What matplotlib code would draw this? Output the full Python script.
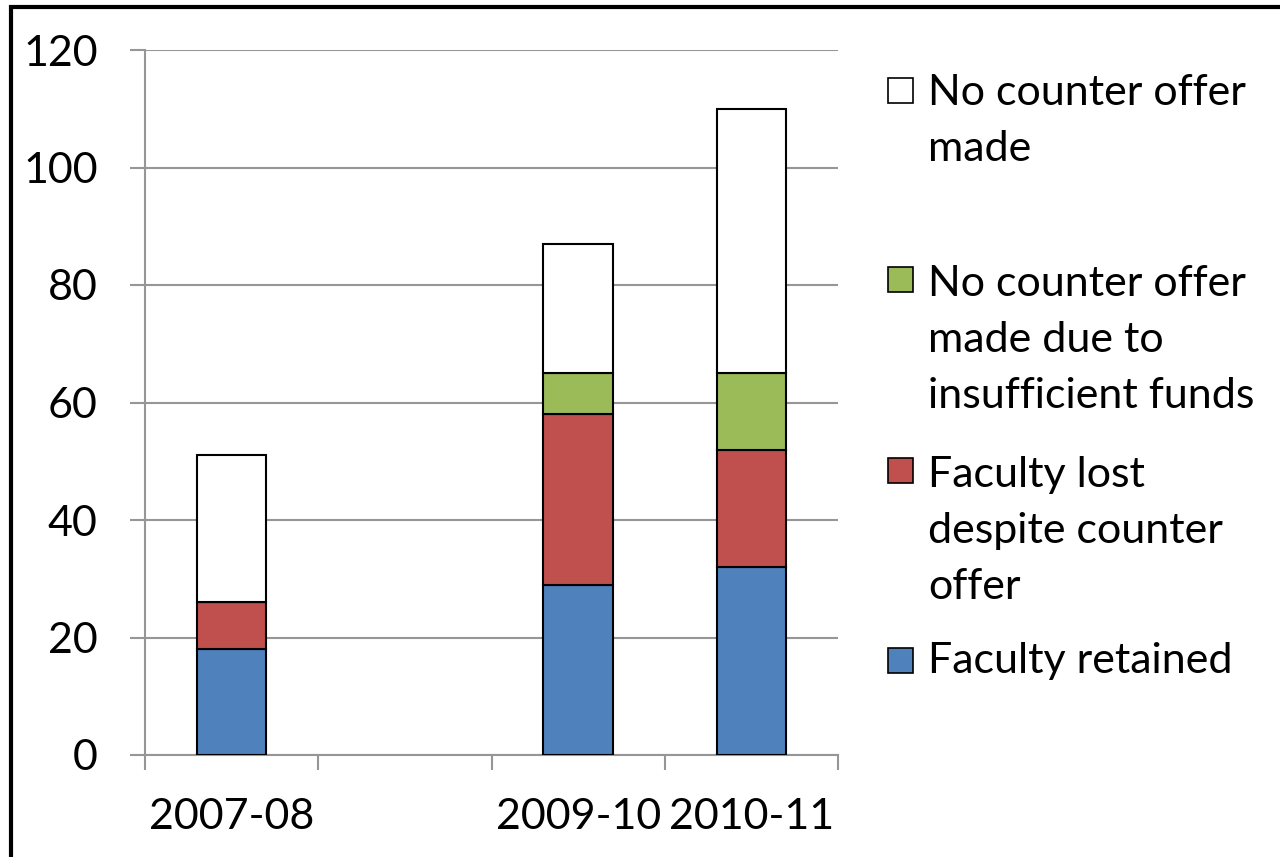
import numpy as np
import matplotlib
matplotlib.use("Agg")
import matplotlib.pyplot as plt
from matplotlib.patches import Rectangle

categories = ["2007-08", "2008-09", "2009-10", "2010-11"]
tick_labels = ["2007-08", "", "2009-10", "2010-11"]
retained = [18, np.nan, 29, 32]
lost = [8, np.nan, 29, 20]
no_funds = [0, np.nan, 7, 13]
no_offer = [25, np.nan, 22, 45]

series_names = ["Faculty retained",
                "Faculty lost\ndespite counter\noffer",
                "No counter offer\nmade due to\ninsufficient funds",
                "No counter offer\nmade"]
series_values = [retained, lost, no_funds, no_offer]
colors = ["#4F81BD", "#C0504D", "#9BBB59", "#FFFFFF"]

FONT = "Lato"
FS = 31
plt.rcParams['font.family'] = [FONT, 'DejaVu Sans']

W, H = 1280, 857
fig = plt.figure(figsize=(W / 100, H / 100), dpi=100)
ax = fig.add_axes([145 / W, 1 - 755 / H, (838 - 145) / W, (755 - 50) / H])

x = np.arange(len(categories))
bottom = np.zeros(len(categories))
for vals, col in zip(series_values, colors):
    v = np.array(vals, dtype=float)
    ax.bar(x, v, width=0.4, bottom=bottom, color=col, edgecolor="black",
           linewidth=1.5, zorder=3)
    bottom = bottom + np.nan_to_num(v)

ax.set_xlim(-0.5, len(categories) - 0.5)
ax.set_ylim(0, 120)
ax.set_yticks(np.arange(0, 121, 20))
ax.set_xticks(x)
ax.set_xticklabels(tick_labels)
ax.set_xticks(np.arange(-0.5, len(categories), 1.0), minor=True)
ax.tick_params(axis='x', which='major', length=0, pad=31, labelsize=FS)
ax.tick_params(axis='x', which='minor', length=11, width=1.5, color="#969696",
               direction='out')
ax.tick_params(axis='y', which='major', length=11, width=1.5, color="#969696",
               pad=23, labelsize=FS)
ax.yaxis.grid(True, color="#969696", linewidth=1.5, zorder=0)
for s in ["top", "right"]:
    ax.spines[s].set_visible(False)
for s in ["left", "bottom"]:
    ax.spines[s].set_color("#969696")
    ax.spines[s].set_linewidth(1.5)
ax.set_axisbelow(True)

# legend (manual, Excel-like: top entry first, square aligned to first line)
legend_order = [3, 2, 1, 0]
first_baselines = [103, 292, 483, 673]
LINE_PX = 58
for idx, yb in zip(legend_order, first_baselines):
    n = series_names[idx].count("\n")
    fig.patches.append(Rectangle((888 / W, 1 - yb / H), 25 / W, 25 / H,
                                 transform=fig.transFigure,
                                 facecolor=colors[idx], edgecolor="black",
                                 linewidth=1.2))
    fig.text(928 / W, 1 - (yb + n * LINE_PX) / H, series_names[idx],
             fontsize=FS, ha='left', va='baseline', linespacing=1.58)

# outer frame
fig.patches.append(Rectangle((11 / W, -0.05), 1.2, 1 - 7 / H + 0.05,
                             transform=fig.transFigure, facecolor="none",
                             edgecolor="black", linewidth=3, clip_on=False))

fig.savefig("out.png", dpi=100)
